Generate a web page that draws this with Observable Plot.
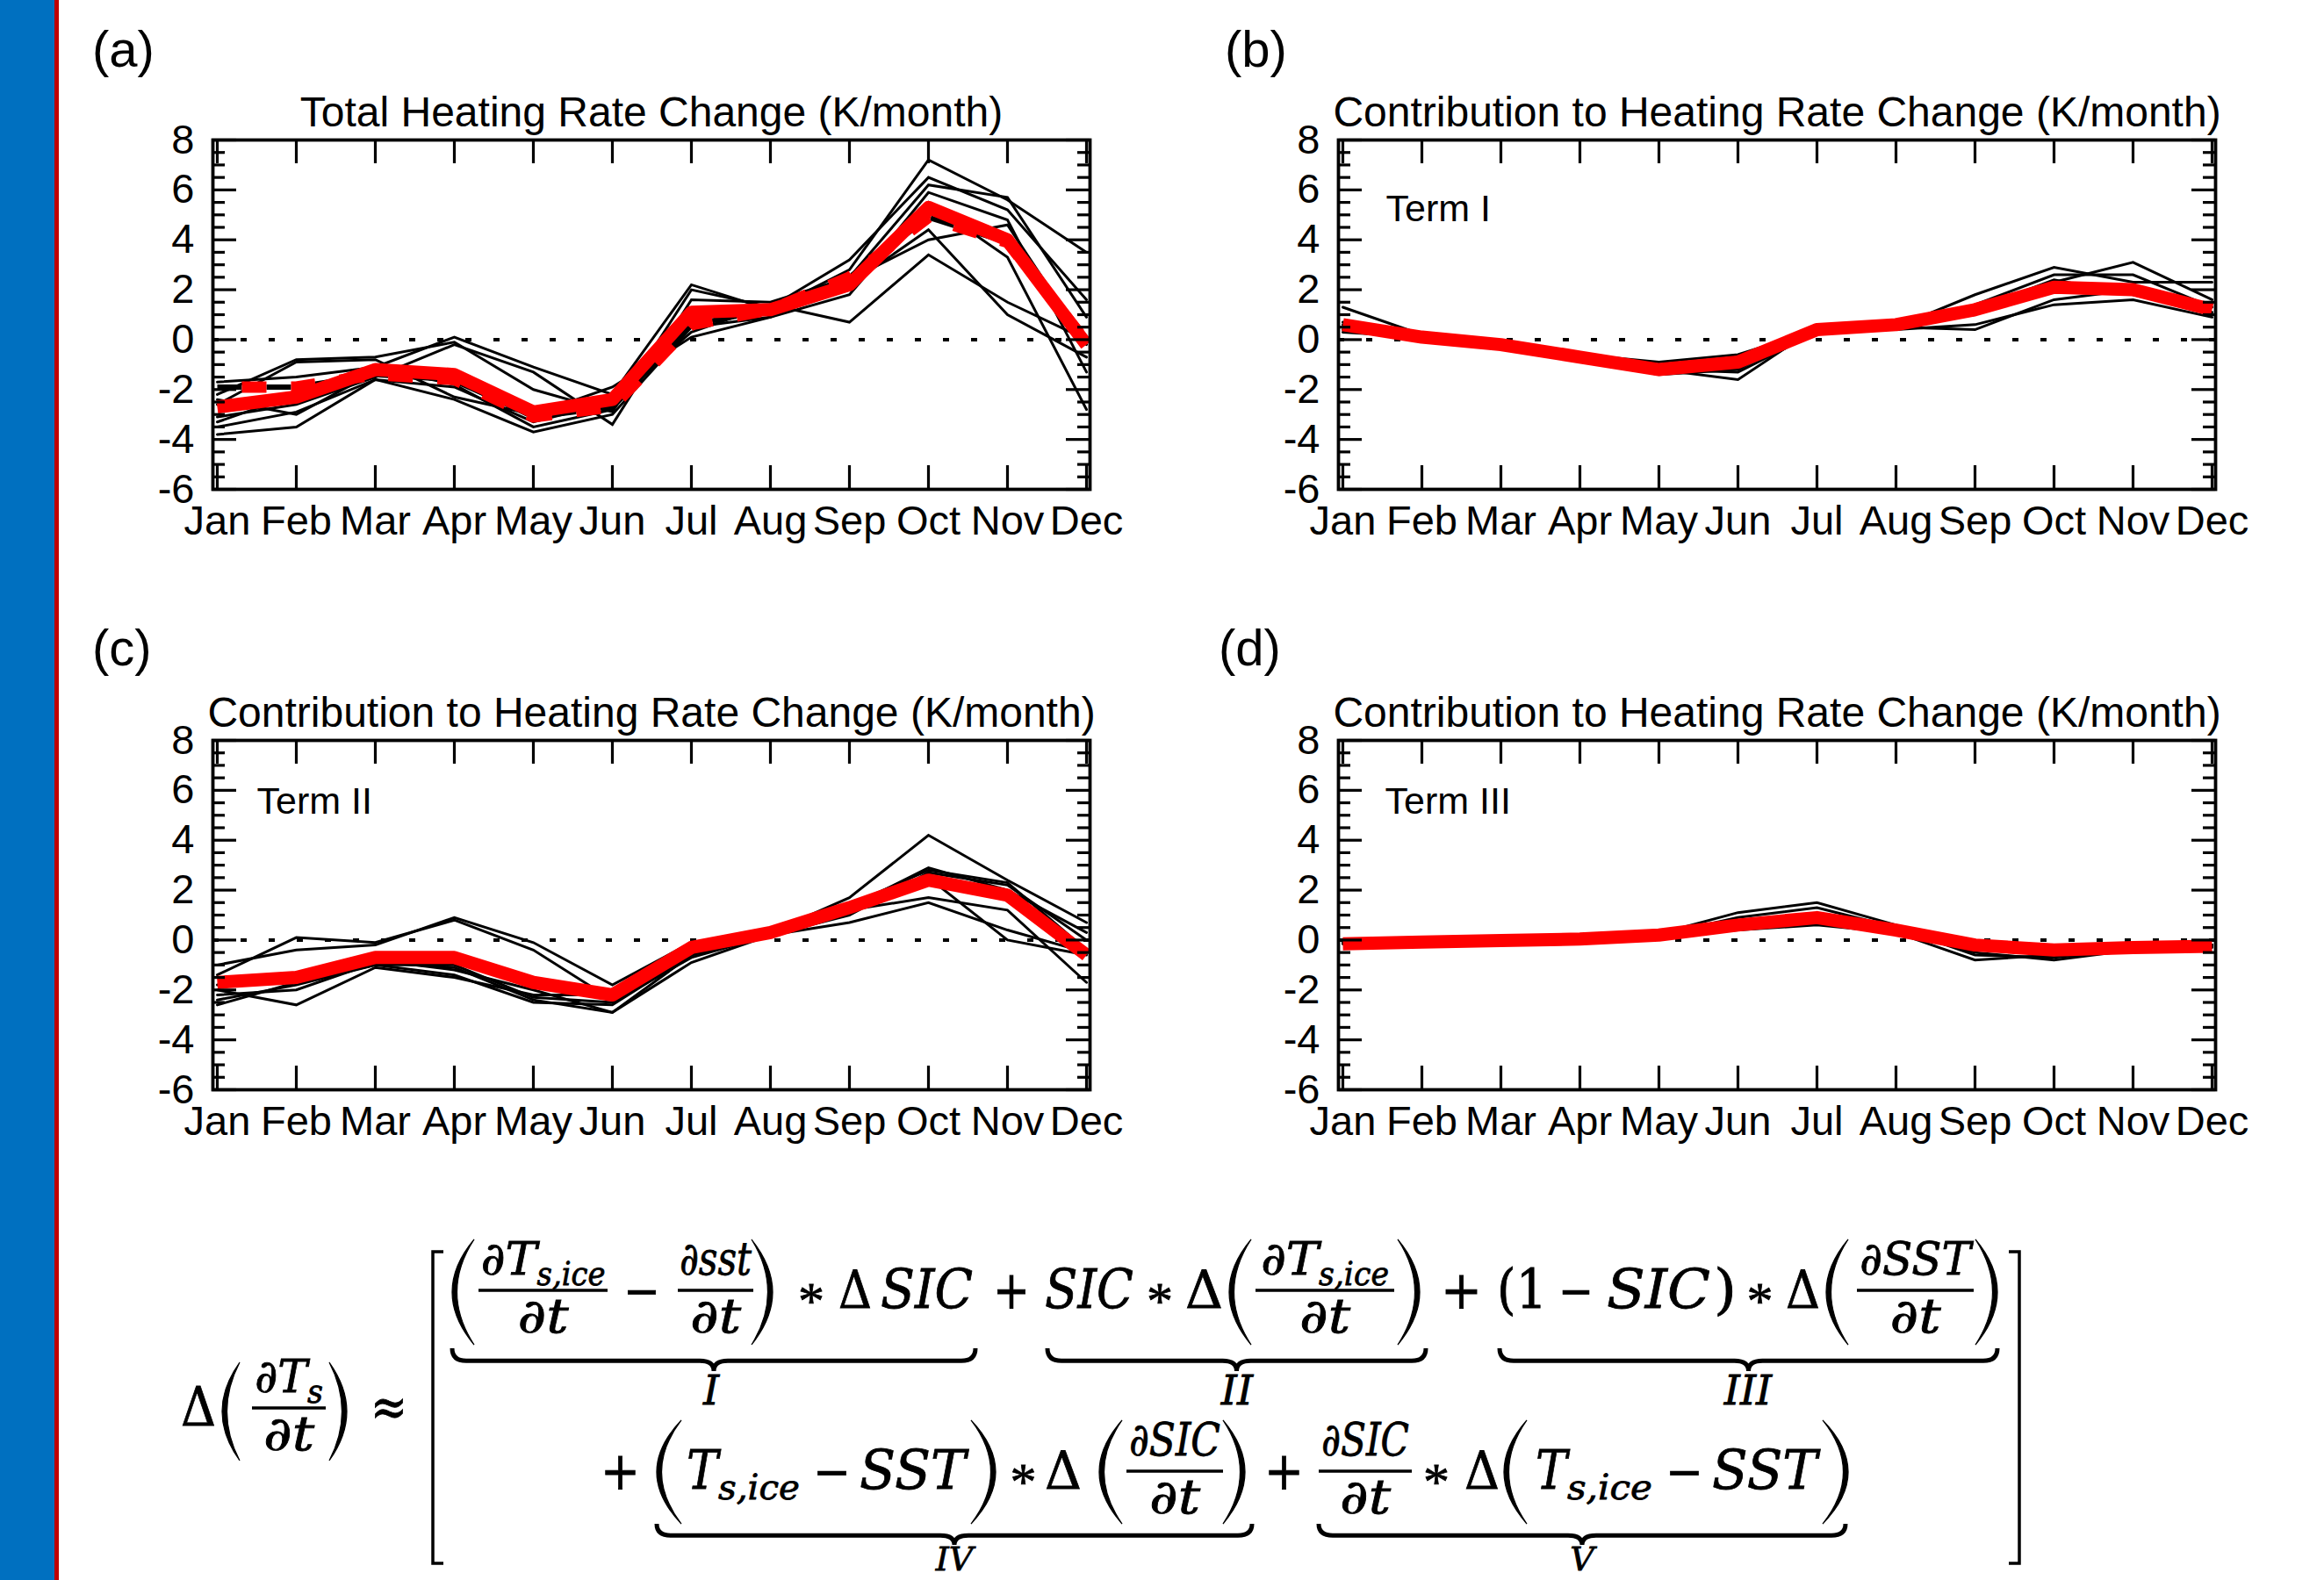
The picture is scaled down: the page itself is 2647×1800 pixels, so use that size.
<!DOCTYPE html>
<html><head><meta charset="utf-8">
<script src="https://cdn.jsdelivr.net/npm/d3@7"></script>
<script src="https://cdn.jsdelivr.net/npm/@observablehq/plot@0.6"></script>
<style>
html,body{margin:0;padding:0;background:#fff;}
#page{position:relative;width:2647px;height:1800px;overflow:hidden;background:#fff;}
.bar-blue{position:absolute;left:0;top:0;width:62px;height:1800px;background:#0070C0;}
.bar-red{position:absolute;left:62px;top:0;width:5px;height:1800px;background:#C00000;}
.panel{position:absolute;}
#overlay{position:absolute;left:0;top:0;}
</style></head>
<body><div id="page">
<div class="bar-blue"></div><div class="bar-red"></div>
<div class="panel" id="pa" style="left:152px;top:69px"></div>
<div class="panel" id="pb" style="left:1434px;top:69px"></div>
<div class="panel" id="pc" style="left:152px;top:753px"></div>
<div class="panel" id="pd" style="left:1434px;top:753px"></div>
<svg id="overlay" width="2647" height="1800"></svg>
</div>
<script>
const months = ["Jan","Feb","Mar","Apr","May","Jun","Jul","Aug","Sep","Oct","Nov","Dec"];
const yTickValues = [-6, -4, -2, 0, 2, 4, 6, 8];
const titleTotal = "Total Heating Rate Change (K/month)";
const titleContrib = "Contribution to Heating Rate Change (K/month)";

// Panel (a): total heating rate change
const totalMembers = [
  [-1.7, -1.5, -1.1,  0.1, -1.1, -2.2,  2.2, 1.2, 2.8, 7.2, 5.6,  3.5],
  [-2.2, -0.8, -0.7, -0.1, -2.0, -2.9,  2.0, 1.3, 3.2, 6.5, 5.2,  1.6],
  [-3.1, -2.6, -1.5, -0.2, -1.3, -3.4,  1.6, 1.5, 2.5, 6.2, 5.7,  0.9],
  [-3.5, -2.9, -1.6, -1.9, -3.3, -2.5,  1.0, 1.0, 2.0, 5.9, 4.8, -1.3],
  [-3.8, -3.5, -1.6, -2.4, -3.7, -3.0,  0.5, 0.9, 1.8, 5.5, 3.3, -2.8],
  [-2.6, -0.9, -0.8, -2.3, -3.0, -1.9,  0.1, 0.9, 2.2, 4.4, 1.0, -0.7],
  [-3.3, -2.2, -1.1, -1.8, -3.5, -2.8,  0.6, 1.2, 2.4, 4.0, 4.6, -0.2],
  [-2.4, -3.0, -1.3, -1.7, -3.1, -2.4,  0.3, 1.4, 0.7, 3.4, 1.5,  0.0]
];
const totalMean    = [-2.7, -2.3, -1.2, -1.4, -2.9, -2.4, 1.1, 1.2, 2.2, 5.3, 4.0, -0.2];
const totalMeanAlt = [-1.9, -1.9, -1.4, -1.6, -3.1, -2.7, 0.6, 1.2, 2.5, 4.9, 3.9, -0.1];

// Panel (b): Term I
const term1Members = [
  [1.3, 0.2, -0.2, -0.7, -1.2, -1.6, 0.5, 0.5, 1.0, 2.3, 3.1, 1.6],
  [0.6, 0.1, -0.3, -0.8, -1.4, -1.2, 0.5, 0.5, 1.8, 2.9, 2.3, 2.3],
  [0.4, 0.1, -0.2, -0.6, -0.9, -0.6, 0.4, 0.5, 0.4, 1.6, 2.0, 1.0],
  [0.3, 0.1, -0.3, -0.8, -1.3, -1.0, 0.6, 0.5, 1.4, 2.6, 2.6, 1.3],
  [0.5, 0.2, -0.2, -0.7, -1.1, -0.9, 0.4, 0.4, 0.6, 1.4, 1.6, 0.9],
  [0.7, 0.1, -0.3, -0.7, -1.2, -1.3, 0.3, 0.5, 1.2, 2.4, 1.8, 1.1]
];
const term1Mean = [0.6, 0.1, -0.2, -0.7, -1.2, -0.9, 0.4, 0.6, 1.2, 2.1, 2.0, 1.2];

// Panel (c): Term II
const term2Members = [
  [-1.0, -0.4, -0.2,  0.9, -0.1, -1.8, -0.1, 0.3, 1.7, 4.2, 2.4,  0.7],
  [-1.4,  0.1, -0.1,  0.8, -0.4, -2.4, -0.3, 0.3, 1.4, 2.8, 2.3, -0.4],
  [-2.2, -2.0, -0.9, -1.1, -2.4, -2.9, -0.9, 0.2, 1.0, 2.7, 2.2,  0.0],
  [-2.6, -1.7, -1.0, -1.4, -2.5, -2.6, -0.6, 0.2, 0.7, 1.5, 0.4, -0.5],
  [-2.0, -2.6, -1.1, -1.5, -2.2, -2.2, -0.5, 0.2, 1.2, 1.7, 1.2, -1.7],
  [-1.8, -1.4, -0.8, -1.2, -2.0, -2.9, -0.6, 0.3, 1.1, 2.5, 0.0, -0.6],
  [-2.4, -1.8, -1.0, -1.0, -2.3, -2.5, -0.7, 0.2, 1.3, 2.9, 2.0,  0.3]
];
const term2Mean = [-1.7, -1.5, -0.7, -0.7, -1.7, -2.2, -0.3, 0.3, 1.3, 2.4, 1.8, -0.6];

// Panel (d): Term III
const term3Members = [
  [-0.10, -0.05, 0.00, 0.05, 0.25, 1.1, 1.5, 0.6, -0.3, -0.5, -0.3, -0.20],
  [-0.15, -0.10, -0.05, 0.05, 0.20, 0.9, 1.3, 0.5, -0.6, -0.7, -0.4, -0.25],
  [-0.10, -0.05, 0.00, 0.05, 0.20, 0.4, 0.6, 0.3, -0.8, -0.6, -0.3, -0.20],
  [-0.15, -0.10, -0.05, 0.05, 0.20, 0.6, 1.0, 0.4, -0.5, -0.8, -0.4, -0.30],
  [-0.10, -0.05, 0.00, 0.05, 0.20, 0.7, 0.8, 0.35, -0.2, -0.4, -0.3, -0.20]
];
const term3Mean = [-0.15, -0.08, -0.02, 0.04, 0.2, 0.6, 0.9, 0.4, -0.2, -0.4, -0.3, -0.25];

function makePanel({members, mean, meanAlt, title, term, termDx, termDy}) {
  const mL = 90, mR = 56, mT = 90, mB = 70, fw = 999, fh = 398;
  const W = mL + fw + mR, H = mT + fh + mB;
  const memberRows = members.flatMap((vals, k) => vals.map((v, i) => ({month: months[i], value: v, member: k})));
  const meanRows = mean.map((v, i) => ({month: months[i], value: v}));
  const minor = d3.range(-6, 8.001, 0.5).filter(v => !yTickValues.includes(v));
  const marks = [
    Plot.ruleY([0], {stroke: "black", strokeWidth: 4, strokeDasharray: "7,25"}),
    Plot.line(memberRows, {x: "month", y: "value", z: "member", stroke: "black", strokeWidth: 3, strokeLinejoin: "miter", strokeMiterlimit: 4, clip: true})
  ];
  if (meanAlt) {
    const altRows = meanAlt.map((v, i) => ({month: months[i], value: v}));
    marks.push(Plot.line(altRows, {x: "month", y: "value", stroke: "black", strokeWidth: 6, strokeDasharray: "28,28", strokeLinecap: "butt", clip: true}));
    marks.push(Plot.line(altRows, {x: "month", y: "value", stroke: "#ff0000", strokeWidth: 13, strokeDasharray: "28,28", strokeDashoffset: 28, strokeLinecap: "butt", clip: true}));
  }
  marks.push(
    Plot.line(meanRows, {x: "month", y: "value", stroke: "#ff0000", strokeWidth: 15, strokeLinecap: "butt", clip: true}),
    Plot.tickX(months, {x: d => d, insetTop: fh - 27, stroke: "black", strokeWidth: 3.2}),
    Plot.tickX(months, {x: d => d, insetBottom: fh - 27, stroke: "black", strokeWidth: 3.2}),
    Plot.tickY(yTickValues, {y: d => d, insetRight: fw - 27, stroke: "black", strokeWidth: 3.2}),
    Plot.tickY(yTickValues, {y: d => d, insetLeft: fw - 27, stroke: "black", strokeWidth: 3.2}),
    Plot.tickY(minor, {y: d => d, insetRight: fw - 14, stroke: "black", strokeWidth: 3.2}),
    Plot.tickY(minor, {y: d => d, insetLeft: fw - 14, stroke: "black", strokeWidth: 3.2}),
    Plot.frame({stroke: "black", strokeWidth: 3.8}),
    Plot.axisX({tickSize: 0, tickPadding: 18, fontSize: 47, label: null}),
    Plot.axisY({ticks: yTickValues, tickSize: 0, tickPadding: 21, tickFormat: d => String(d), fontSize: 47, label: null}),
    Plot.text([title], {frameAnchor: "top", dy: -16, lineAnchor: "bottom", fontSize: 48, fill: "black"})
  );
  if (term) marks.push(Plot.text([term], {frameAnchor: "top-left", dx: termDx, dy: termDy, textAnchor: "start", lineAnchor: "bottom", fontSize: 43, fill: "black"}));
  return Plot.plot({
    width: W, height: H, marginLeft: mL, marginRight: mR, marginTop: mT, marginBottom: mB,
    style: {fontFamily: "'Liberation Sans', Arial, Helvetica, sans-serif", fontSize: "47px", color: "black", background: "transparent", overflow: "visible"},
    x: {type: "point", domain: months, padding: 0, label: null},
    y: {domain: [-6, 8], label: null},
    marks
  });
}

document.getElementById("pa").append(makePanel({members: totalMembers, mean: totalMean, meanAlt: totalMeanAlt, title: titleTotal}));
document.getElementById("pb").append(makePanel({members: term1Members, mean: term1Mean, title: titleContrib, term: "Term I", termDx: 54, termDy: 92}));
document.getElementById("pc").append(makePanel({members: term2Members, mean: term2Mean, title: titleContrib, term: "Term II", termDx: 50, termDy: 83}));
document.getElementById("pd").append(makePanel({members: term3Members, mean: term3Mean, title: titleContrib, term: "Term III", termDx: 53, termDy: 83}));

// ---------- overlay: panel letters and equation ----------
const svg = d3.select("#overlay");
const panelLetters = [
  {t: "(a)", x: 105, y: 76},
  {t: "(b)", x: 1395, y: 76},
  {t: "(c)", x: 105, y: 758},
  {t: "(d)", x: 1388, y: 758}
];
svg.selectAll("text.letter").data(panelLetters).join("text").attr("class", "letter")
  .attr("x", d => d.x).attr("y", d => d.y)
  .attr("font-family", "'Liberation Sans', Arial, sans-serif").attr("font-size", 58).text(d => d.t);

const eq = svg.append("g").attr("font-family", "'DejaVu Serif', 'Liberation Serif', serif")
  .attr("fill", "black").attr("stroke", "black").attr("stroke-width", 0.8);
function T(s, x0, x1, base, size, italic) {
  eq.append("text").attr("x", x0).attr("y", base).attr("font-size", size)
    .attr("font-style", italic ? "italic" : "normal")
    .attr("textLength", x1 - x0).attr("lengthAdjust", "spacingAndGlyphs").text(s);
}
function C(s, xc, base, size, italic) {
  eq.append("text").attr("x", xc).attr("y", base).attr("font-size", size).attr("text-anchor", "middle")
    .attr("font-style", italic ? "italic" : "normal").text(s);
}
function star(x0, x1, base) {
  eq.append("text").attr("x", (x0 + x1) / 2).attr("y", base + 12).attr("font-size", 60)
    .attr("font-family", "'Liberation Serif', serif").attr("text-anchor", "middle").text("*");
}
function bar(x0, x1, y) {
  eq.append("line").attr("x1", x0).attr("x2", x1).attr("y1", y).attr("y2", y).attr("stroke", "black").attr("stroke-width", 3.5);
}
function paren(x0, x1, y0, y1, left) {
  const t = 5.5, mid = (y0 + y1) / 2;
  let p;
  if (left) {
    p = `M${x1},${y0} Q${2 * x0 - x1},${mid} ${x1},${y1} Q${2 * (x0 + t) - x1},${mid} ${x1},${y0} Z`;
  } else {
    p = `M${x0},${y0} Q${2 * x1 - x0},${mid} ${x0},${y1} Q${2 * (x1 - t) - x0},${mid} ${x0},${y0} Z`;
  }
  eq.append("path").attr("d", p).attr("fill", "black").attr("stroke", "black").attr("stroke-width", 1.2);
}
function brace(x0, x1, y0, h) {
  const m = (x0 + x1) / 2, r = Math.min(16, (x1 - x0) / 6), ym = y0 + h * 0.55;
  const p = `M${x0},${y0} Q${x0},${ym} ${x0 + r},${ym} L${m - r},${ym} Q${m},${ym} ${m},${y0 + h} Q${m},${ym} ${m + r},${ym} L${x1 - r},${ym} Q${x1},${ym} ${x1},${y0}`;
  eq.append("path").attr("d", p).attr("fill", "none").attr("stroke", "black").attr("stroke-width", 5);
}
function bracket(x, y0, y1, dir) {
  const s = 12 * dir;
  eq.append("path").attr("d", `M${x + s},${y0} L${x},${y0} L${x},${y1} L${x + s},${y1}`)
    .attr("fill", "none").attr("stroke", "black").attr("stroke-width", 3.5);
}
function frac(num, sub, x0, x1, axis, numW, subW) {
  const cx = (x0 + x1) / 2;
  const total = numW + (sub ? subW : 0);
  const nx = cx - total / 2;
  T(num, nx, nx + numW, axis - 18, 52, true);
  if (sub) T(sub, nx + numW, nx + numW + subW, axis - 6, 38, true);
  bar(x0, x1, axis);
  T("∂t", cx - 29, cx + 29, axis + 48, 54, true);
}

// left-hand side
const A0 = 1604;
T("Δ", 206, 246, A0 + 20, 62, false);
paren(253, 273, 1552, 1664, true);
frac("∂T", "s", 287, 371, A0, 60, 18);
paren(375, 395, 1552, 1664, false);
T("≈", 422, 464, A0 + 20, 62, false);

bracket(493, 1426, 1781, 1);
bracket(2300, 1426, 1781, -1);

// row 1
const A1 = 1470, B1 = A1 + 20;
paren(515, 540, 1412, 1532, true);
frac("∂T", "s,ice", 545, 692, A1, 64, 78);
T("−", 710, 752, B1, 56, false);
frac("∂sst", null, 772, 858, A1, 82, 0);
paren(856, 880, 1412, 1532, false);
star(911, 937, B1);
T("Δ", 955, 993, B1, 60, false);
T("SIC", 1003, 1108, B1, 62, true);
T("+", 1131, 1173, B1, 60, false);
T("SIC", 1190, 1291, B1, 62, true);
star(1308, 1334, B1);
T("Δ", 1350, 1393, B1, 60, false);
paren(1400, 1425, 1412, 1532, true);
frac("∂T", "s,ice", 1430, 1588, A1, 66, 80);
paren(1592, 1617, 1412, 1532, false);
T("+", 1641, 1688, B1, 60, false);
T("(1", 1705, 1762, B1, 62, false);
T("−", 1775, 1815, B1, 56, false);
T("SIC", 1830, 1948, B1, 62, true);
T(")", 1952, 1978, B1, 62, false);
star(1992, 2017, B1);
T("Δ", 2034, 2073, B1, 60, false);
paren(2080, 2105, 1412, 1532, true);
frac("∂SST", null, 2115, 2248, A1, 127, 0);
paren(2250, 2275, 1412, 1532, false);
brace(515, 1111, 1536, 26); C("I", 810, 1600, 46, true);
brace(1193, 1624, 1536, 26); C("II", 1409, 1600, 46, true);
brace(1708, 2275, 1536, 26); C("III", 1991, 1600, 46, true);

// row 2
const A2 = 1676, B2 = A2 + 20;
T("+", 684, 729, B2, 60, false);
paren(748, 776, 1618, 1736, true);
T("T", 782, 818, B2, 62, true);
T("s,ice", 818, 911, B2 + 12, 40, true);
T("−", 926, 969, B2, 56, false);
T("SST", 979, 1100, B2, 62, true);
paren(1106, 1134, 1618, 1736, false);
star(1153, 1178, B2);
T("Δ", 1190, 1232, B2, 60, false);
paren(1252, 1278, 1618, 1736, true);
frac("∂SIC", null, 1283, 1393, A2, 104, 0);
paren(1393, 1418, 1618, 1736, false);
T("+", 1440, 1485, B2, 60, false);
frac("∂SIC", null, 1502, 1608, A2, 100, 0);
star(1624, 1648, B2);
T("Δ", 1668, 1708, B2, 60, false);
paren(1713, 1739, 1618, 1736, true);
T("T", 1749, 1785, B2, 62, true);
T("s,ice", 1785, 1882, B2 + 12, 40, true);
T("−", 1897, 1940, B2, 56, false);
T("SST", 1950, 2070, B2, 62, true);
paren(2076, 2105, 1618, 1736, false);
brace(748, 1426, 1736, 24); C("IV", 1087, 1789, 38, true);
brace(1502, 2102, 1736, 24); C("V", 1802, 1789, 38, true);
</script>
</body></html>
